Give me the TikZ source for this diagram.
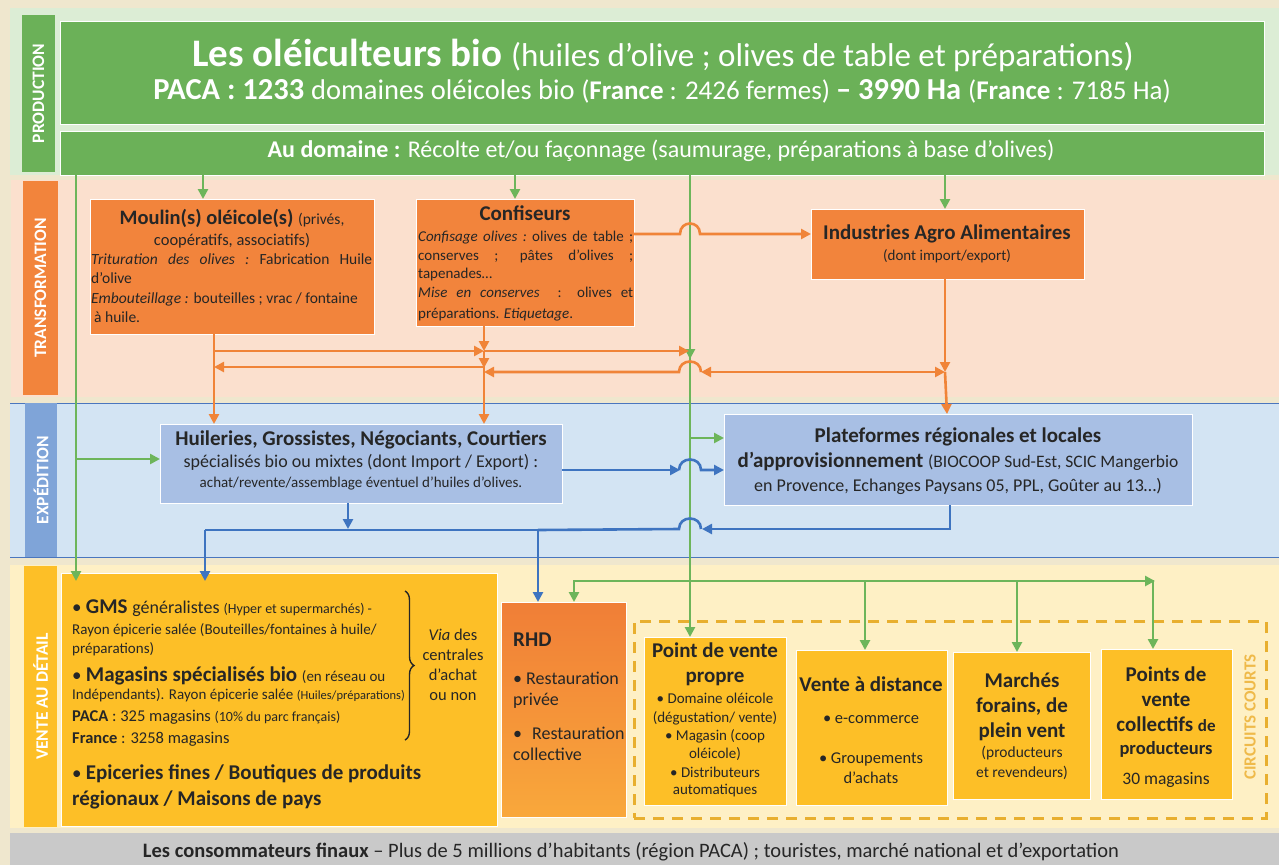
\documentclass[tikz,border=0pt]{standalone}
\usepackage{fontspec}
\setmainfont{Carlito}
\usetikzlibrary{arrows.meta,decorations.pathreplacing}
\definecolor{bgc}{HTML}{EFE7CE}
\definecolor{prodband}{HTML}{DCEDD5}
\definecolor{gbox}{HTML}{6BB158}
\definecolor{garr}{HTML}{6DB55A}
\definecolor{transband}{HTML}{FBE0CE}
\definecolor{obox}{HTML}{F2843C}
\definecolor{oarr}{HTML}{F08438}
\definecolor{expband}{HTML}{D3E4F3}
\definecolor{expline}{HTML}{4A76BE}
\definecolor{explab}{HTML}{7FA4D8}
\definecolor{bbox}{HTML}{A8BFE4}
\definecolor{barr}{HTML}{3E74C0}
\definecolor{venteband}{HTML}{FEF0C5}
\definecolor{ybox}{HTML}{FDBF27}
\definecolor{dashc}{HTML}{E8AF2F}
\definecolor{cclab}{HTML}{EFBA4A}
\definecolor{grayband}{HTML}{C9C9C9}
\definecolor{dtext}{HTML}{262626}
\definecolor{rhdtop}{HTML}{F07E37}
\definecolor{rhdbot}{HTML}{F9A83B}
\newcommand\myfs[1]{\fontsize{#1}{#1}\selectfont}
\begin{document}
\begin{tikzpicture}[x=1pt,y=-1pt,
  boxnode/.style={anchor=north west,inner sep=0pt,outer sep=0pt,draw=white,line width=1pt},
  sectlab/.style={rotate=90,inner sep=0pt,text=white,font=\bfseries\myfs{17.5}},
  tl/.style={anchor=base,inner sep=0pt,text=dtext},
  tlw/.style={anchor=base west,inner sep=0pt,text=dtext},
  conn/.style={line width=2.6pt,-{Triangle[length=10pt,width=10pt]}},
  plainc/.style={line width=2.6pt},
  gc/.style={draw=garr},
  oc/.style={draw=oarr},
  bc/.style={draw=barr},
]
\useasboundingbox (0,0) rectangle (1279,865);
\fill[bgc] (0,0) rectangle (1279,865);
% bands
\fill[prodband] (10,8) rectangle (1279,175);
\fill[transband] (11,180) rectangle (1279,397);
\fill[expband] (10,403) rectangle (1279,557);
\draw[expline,line width=1pt] (10,403) -- (1279,403) (10,557) -- (1279,557);
\fill[venteband] (10,565) rectangle (1279,828);
\fill[grayband] (10,833) rectangle (1279,865);

% section labels
\node[sectlab,fill=gbox,minimum width=157pt,minimum height=33pt] (lprod) at (38.5,93.5) {PRODUCTION};
\node[sectlab,fill=obox,minimum width=214pt,minimum height=35pt] (ltrans) at (40.5,288) {TRANSFORMATION};
\node[sectlab,fill=explab,minimum width=154pt,minimum height=32pt] (lexp) at (41,480) {EXPÉDITION};
\node[sectlab,fill=ybox,minimum width=261pt,minimum height=33pt] (lvente) at (40.5,696.5) {VENTE AU DÉTAIL};

% boxes
\node[boxnode,fill=gbox,minimum width=1204pt,minimum height=103pt] (mainbox) at (60,21) {};
\node[boxnode,fill=gbox,minimum width=1204pt,minimum height=44pt] (domaine) at (60,131) {};
\node[boxnode,fill=obox,minimum width=284pt,minimum height=135pt] (moulin) at (90,199) {};
\node[boxnode,fill=obox,minimum width=218pt,minimum height=127pt] (conf) at (416,199) {};
\node[boxnode,fill=obox,minimum width=273pt,minimum height=70pt] (ind) at (811,209) {};
\node[boxnode,fill=bbox,minimum width=402pt,minimum height=79pt] (huil) at (160,424) {};
\node[boxnode,fill=bbox,minimum width=468pt,minimum height=91pt] (plat) at (724,414) {};
\node[boxnode,fill=ybox,minimum width=436pt,minimum height=253pt] (gms) at (61,573) {};
\node[boxnode,top color=rhdtop,bottom color=rhdbot,minimum width=125pt,minimum height=215pt] (rhd) at (501,602) {};
\node[anchor=north west,inner sep=0pt,draw=dashc,line width=2.6pt,dash pattern=on 11pt off 8pt,minimum width=632pt,minimum height=197pt] (circ) at (633,620) {};
\node[boxnode,fill=ybox,minimum width=142pt,minimum height=168pt] (pvp) at (644,637) {};
\node[boxnode,fill=ybox,minimum width=151pt,minimum height=155pt] (vad) at (796,650) {};
\node[boxnode,fill=ybox,minimum width=137pt,minimum height=147pt] (mar) at (953,652) {};
\node[boxnode,fill=ybox,minimum width=131pt,minimum height=150pt] (pvc) at (1101,649) {};

% production texts
\node[tl,text=white] (t1) at (663,66) {{\bfseries\myfs{39}Les oléiculteurs bio }{\myfs{33}(huiles d’olive ; olives de table et préparations)}};
\node[tl,text=white] (t2) at (662,99) {{\bfseries\myfs{30.5}PACA : 1233 }{\myfs{28.5}domaines oléicoles bio }{\myfs{27}(\textbf{France} : 2426 fermes) }{\bfseries\myfs{30.5}– 3990 Ha }{\myfs{27}(\textbf{France} : 7185 Ha)}};
\node[tl,text=white] (t3) at (661,157) {\myfs{24}\textbf{Au domaine :} Récolte et/ou façonnage (saumurage, préparations à base d’olives)};

% moulin
\node[tl] (m1) at (232,224) {{\bfseries\myfs{20.5}Moulin(s) oléicole(s) }{\myfs{15.5}(privés,}};
\node[tl] (m2) at (232,245) {\myfs{16.5}coopératifs, associatifs)};
\node[tlw] (m3) at (91,264) {\myfs{15.5}\makebox[281pt][s]{\itshape Trituration des olives :\upshape\ Fabrication Huile}};
\node[tlw] (m4) at (91,283) {\myfs{15.5}d’olive};
\node[tlw] (m5) at (91,303) {\myfs{15.5}\textit{Embouteillage :} bouteilles ; vrac / fontaine};
\node[tlw] (m6) at (94,322) {\myfs{15.5}à huile.};

% confiseurs
\node[tl] (c1) at (525,220) {\bfseries\myfs{21}Confiseurs};
\node[tlw] (c2) at (418,241) {\myfs{15}\makebox[215pt][s]{\itshape Confisage olives :\upshape\ olives de table ;}};
\node[tlw] (c3) at (418,260) {\myfs{15}\makebox[215pt][s]{conserves ; pâtes d’olives ;}};
\node[tlw] (c4) at (418,278) {\myfs{15}tapenades…};
\node[tlw] (c5) at (418,297) {\myfs{15}\makebox[215pt][s]{\itshape Mise en conserves \upshape\ : olives et}};
\node[tlw] (c6) at (418,318) {\myfs{15}préparations. \textit{Etiquetage}.};

% industries
\node[tl] (i1) at (947,239) {\bfseries\myfs{21}Industries Agro Alimentaires};
\node[tl] (i2) at (947,260) {\myfs{15}(dont import/export)};

% huileries
\node[tl] (h1) at (361,445) {\bfseries\myfs{21}Huileries, Grossistes, Négociants, Courtiers};
\node[tl] (h2) at (361,467) {\myfs{18}spécialisés bio ou mixtes (dont Import / Export) :};
\node[tl] (h3) at (361,487) {\myfs{15}achat/revente/assemblage éventuel d’huiles d’olives.};

% plateformes
\node[tl] (p1) at (958,442) {\bfseries\myfs{21}Plateformes régionales et locales};
\node[tl] (p2) at (958,467) {{\bfseries\myfs{21}d'approvisionnement }{\myfs{17.5}(BIOCOOP Sud-Est, SCIC Mangerbio}};
\node[tl] (p3) at (958,491) {\myfs{18}en Provence, Echanges Paysans 05, PPL, Goûter au 13…)};

% GMS
\node[tlw] (g1) at (72,613) {{\myfs{19}• }{\bfseries\myfs{21}GMS }{\myfs{18}généralistes }{\myfs{14}(Hyper et supermarchés) -}};
\node[tlw] (g2) at (72,634) {\myfs{15}Rayon épicerie salée (Bouteilles/fontaines à huile/};
\node[tlw] (g3) at (72,653) {\myfs{15}préparations)};
\node[tlw] (g4) at (72,681) {{\myfs{19}• }{\bfseries\myfs{21}Magasins spécialisés bio }{\myfs{15}(en réseau ou}};
\node[tlw] (g5) at (72,699) {{\myfs{15}Indépendants). Rayon épicerie salée }{\myfs{12.5}(Huiles/préparations)}};
\node[tlw] (g6) at (72,721) {{\bfseries\myfs{16.5}PACA }{\myfs{16.5}: 325 magasins }{\myfs{14}(10\% du parc français)}};
\node[tlw] (g7) at (72,743) {{\bfseries\myfs{16.5}France }{\myfs{16.5}: 3258 magasins}};
\node[tlw] (g8) at (72,779) {{\myfs{19}• }{\bfseries\myfs{21}Epiceries fines / Boutiques de produits}};
\node[tlw] (g9) at (72,805) {\bfseries\myfs{21}régionaux / Maisons de pays};
\draw[dtext,line width=1.4pt,decorate,decoration={brace,amplitude=9pt}] (405,591) -- (405,740);
\node[tl] (v1) at (453,640) {\myfs{16.5}\textit{Via} des};
\node[tl] (v2) at (453,660) {\myfs{16.5}centrales};
\node[tl] (v3) at (453,680) {\myfs{16.5}d’achat};
\node[tl] (v4) at (453,700) {\myfs{16.5}ou non};

% RHD
\node[tlw] (r1) at (513,646) {\bfseries\myfs{21}RHD};
\node[tlw] (r2) at (513,684) {\myfs{18}• Restauration};
\node[tlw] (r3) at (513,705) {\myfs{18}privée};
\node[tlw] (r4) at (513,739) {\myfs{18}•\hspace{10pt}Restauration};
\node[tlw] (r5) at (513,760) {\myfs{18}collective};

% point de vente propre
\node[tl] (a1) at (715,657) {\bfseries\myfs{21}Point de vente};
\node[tl] (a2) at (715,682) {\bfseries\myfs{21}propre};
\node[tl] (a3) at (715,703) {\myfs{15}• Domaine oléicole};
\node[tl] (a4) at (715,722) {\myfs{15}(dégustation/ vente)};
\node[tl] (a5) at (715,740) {\myfs{15}• Magasin (coop};
\node[tl] (a6) at (715,758) {\myfs{15}oléicole)};
\node[tl] (a7) at (715,777) {\myfs{15}• Distributeurs};
\node[tl] (a8) at (715,794) {\myfs{15}automatiques};

% vente a distance
\node[tl] (b1) at (871,691) {\bfseries\myfs{21}Vente à distance};
\node[tl] (b2) at (871,723) {\myfs{16.5}• e-commerce};
\node[tl] (b3) at (871,763) {\myfs{16.5}• Groupements};
\node[tl] (b4) at (871,783) {\myfs{16.5}d’achats};

% marches
\node[tl] (d1) at (1022,687) {\bfseries\myfs{21}Marchés};
\node[tl] (d2) at (1022,712) {\bfseries\myfs{21}forains, de};
\node[tl] (d3) at (1022,737) {\bfseries\myfs{21}plein vent};
\node[tl] (d4) at (1022,757) {\myfs{15.5}(producteurs};
\node[tl] (d5) at (1022,777) {\myfs{15.5}et revendeurs)};

% points de vente collectifs
\node[tl] (e1) at (1166,681) {\bfseries\myfs{21}Points de};
\node[tl] (e2) at (1166,706) {\bfseries\myfs{21}vente};
\node[tl] (e3) at (1166,731) {{\bfseries\myfs{21}collectifs }{\bfseries\myfs{17}de}};
\node[tl] (e4) at (1166,754) {\bfseries\myfs{18.5}producteurs};
\node[tl] (e5) at (1166,784) {\myfs{17.5}30 magasins};

\node[rotate=90,inner sep=0pt,text=cclab,font=\bfseries\myfs{17}] (cct) at (1250,717) {CIRCUITS COURTS};

% consumers
\node[tl] (cons) at (631,857) {\myfs{20.5}\textbf{Les consommateurs finaux} – Plus de 5 millions d’habitants (région PACA) ; touristes, marché national et d’exportation};

% ---------- connectors ----------
% green
\draw[conn,gc] (domaine.south -| 76,0) -- (76,581);
\draw[conn,gc] (76,459) -- (huil.west |- 0,459);
\draw[conn,gc] (domaine.south -| 203,0) -- (moulin.north -| 203,0);
\draw[conn,gc] (domaine.south -| 515,0) -- (conf.north -| 515,0);
\draw[conn,gc] (domaine.south -| 945,0) -- (ind.north -| 945,0);
\draw[conn,gc] (domaine.south -| 690,0) -- (690,359);
\draw[conn,gc] (690,357) -- (pvp.north -| 690,0);
\draw[conn,gc] (690,438) -- (plat.west |- 0,438);
\draw[conn,gc] (574,581) -- (1155,581);
\draw[conn,gc] (574,580) -- (rhd.north -| 574,0);
\draw[conn,gc] (865,580) -- (vad.north -| 865,0);
\draw[conn,gc] (1017,580) -- (mar.north -| 1017,0);
\draw[conn,gc] (1153,580) -- (pvc.north -| 1153,0);

% orange
\draw[conn,oc] (conf.east |- 0,234) -- (680,234) .. controls (680,220) and (700,220) .. (700,234) -- (ind.west |- 0,234);
\draw[conn,oc] (moulin.south -| 214,0) -- (huil.north -| 214,0);
\draw[conn,oc] (214,351) -- (484,351);
\draw[conn,oc] (484,351) -- (689,351);
\draw[conn,oc] (conf.south -| 484,0) -- (484,351);
\draw[conn,oc] (484,351) -- (484,368);
\draw[conn,oc] (484,366) -- (huil.north -| 484,0);
\draw[conn,oc] (485,367) -- (214,367);
\draw[conn,oc] (ind.south -| 945,0) -- (945,372);
\draw[conn,oc] (945,372) -- (plat.north -| 947,0);
\draw[line width=2.6pt,oc,{Triangle[length=10pt,width=10pt]}-{Triangle[length=10pt,width=10pt]}] (701,372) -- (945,372);
\draw[conn,oc] (701,372) .. controls (701,358) and (679,358) .. (679,372) -- (484,372);

% blue
\draw[conn,bc] (huil.east |- 0,470) -- (680,470);
\draw[conn,bc] (679,470) .. controls (679,456) and (701,456) .. (701,470) -- (plat.west |- 0,470);
\draw[conn,bc] (huil.south -| 348,0) -- (348,529);
\draw[plainc,bc] (205,530) -- (538,530);
\draw[conn,bc] (205,530) -- (205,581);
\draw[conn,bc] (538,530) -- (rhd.north -| 538,0);
\draw[conn,bc] (plat.south -| 950,0) -- (950,529) -- (702,529);
\draw[plainc,bc] (701,529) .. controls (701,515) and (679,515) .. (679,529) -- (538,530);
\end{tikzpicture}
\end{document}
